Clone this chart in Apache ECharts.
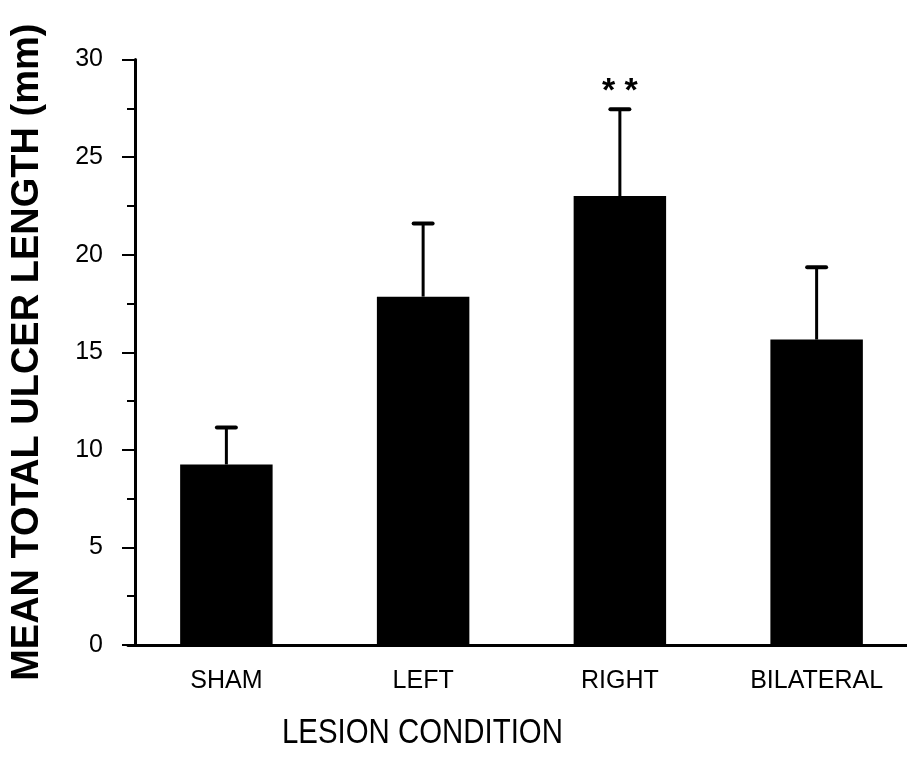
<!DOCTYPE html>
<html>
<head>
<meta charset="utf-8">
<script src="https://cdn.jsdelivr.net/npm/echarts@6/dist/echarts.min.js"></script>
<style>
  html, body { margin: 0; padding: 0; background: #fff; }
  #chart { width: 907px; height: 770px; }
</style>
</head>
<body>
<div id="chart"></div>
<script>
// Lesion groups and mean total ulcer length (mm) with SEM
const categories = ['SHAM', 'LEFT', 'RIGHT', 'BILATERAL'];
const meanLength = [9.25, 17.85, 23.0, 15.65];
const semLength = [1.9, 3.75, 4.45, 3.7];
const significance = ['', '', '* *', ''];
const yTicks = [0, 5, 10, 15, 20, 25, 30];

const FONT = 'Liberation Sans, Arial, sans-serif';
const chart = echarts.init(document.getElementById('chart'));

const errorData = categories.map((c, i) => [i, meanLength[i], meanLength[i] + semLength[i], significance[i]]);

chart.setOption({
  animation: false,
  backgroundColor: '#ffffff',
  grid: { left: 128, width: 787, top: 59.5, bottom: 125, containLabel: false, outerBoundsMode: 'none' },
  graphic: [{
    type: 'text',
    left: 282, top: 716,
    scaleX: 0.84,
    style: { text: 'LESION CONDITION', fontFamily: FONT, fontSize: 35, fill: '#000' }
  }],
  xAxis: {
    type: 'category',
    data: categories,
    axisLine: { lineStyle: { color: '#000', width: 3 } },
    axisTick: { show: false },
    axisLabel: { color: '#000', fontFamily: FONT, fontSize: 25, margin: 24 }
  },
  yAxis: {
    type: 'value',
    min: 0, max: 30, interval: 5,
    offset: -7,
    name: 'MEAN TOTAL ULCER LENGTH (mm)',
    nameLocation: 'middle',
    nameGap: 88,
    nameTextStyle: { fontFamily: FONT, fontSize: 38, fontWeight: 'bold', color: '#000' },
    axisLine: { show: true, lineStyle: { color: '#000', width: 3 } },
    axisTick: { show: true, length: 13, lineStyle: { color: '#000', width: 2 } },
    minorTick: { show: true, splitNumber: 2, length: 8, lineStyle: { color: '#000', width: 2 } },
    splitLine: { show: false },
    axisLabel: {
      color: '#000', fontFamily: FONT, fontSize: 25, margin: 32,
      formatter: v => yTicks.includes(v) ? String(v) : ''
    }
  },
  series: [
    {
      type: 'bar',
      data: meanLength,
      barWidth: '47%',
      itemStyle: { color: '#000' },
      z: 2
    },
    {
      type: 'custom',
      data: errorData,
      z: 3,
      renderItem: function (params, api) {
        const x = api.value(0);
        const base = api.coord([x, api.value(1)]);
        const top = api.coord([x, api.value(2)]);
        const mark = api.value(3);
        const half = 9.5;
        const children = [
          { type: 'line', shape: { x1: base[0], y1: base[1], x2: top[0], y2: top[1] },
            style: { stroke: '#000', lineWidth: 3 } },
          { type: 'line', shape: { x1: top[0] - half, y1: top[1], x2: top[0] + half, y2: top[1] },
            style: { stroke: '#000', lineWidth: 4, lineCap: 'round' } }
        ];
        if (mark) {
          children.push({
            type: 'text',
            style: {
              text: mark, x: top[0], y: top[1] - 18,
              align: 'center', verticalAlign: 'middle',
              fontFamily: FONT, fontSize: 34, fontWeight: 'bold', fill: '#000'
            }
          });
        }
        return { type: 'group', children: children };
      }
    }
  ]
});
</script>
</body>
</html>
